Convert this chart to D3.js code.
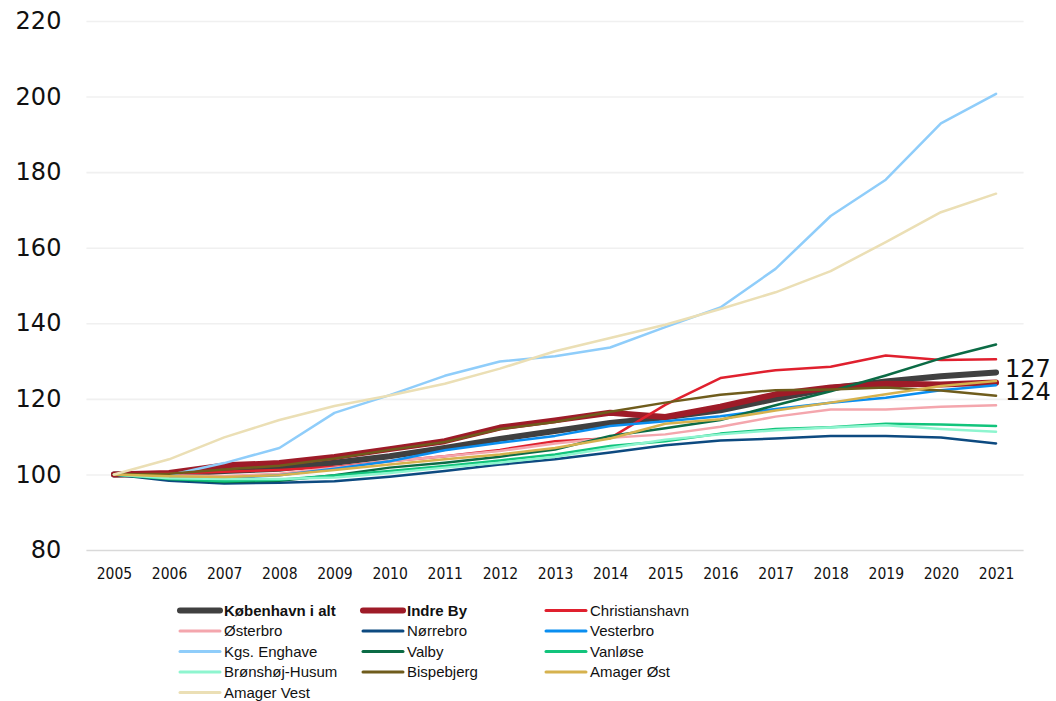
<!DOCTYPE html>
<html><head><meta charset="utf-8">
<script src="https://cdn.jsdelivr.net/npm/d3@7/dist/d3.min.js"></script>
<style>
html,body{margin:0;padding:0;background:#fff;}
svg{display:block;}
</style></head>
<body>
<svg id="chart" width="1056" height="701"></svg>
<script>
const years = [2005,2006,2007,2008,2009,2010,2011,2012,2013,2014,2015,2016,2017,2018,2019,2020,2021];
const yTicks = [80,100,120,140,160,180,200,220];

const seriesNames = ["København i alt","Indre By","Christianshavn","Østerbro","Nørrebro","Vesterbro","Kgs. Enghave","Valby","Vanløse","Brønshøj-Husum","Bispebjerg","Amager Øst","Amager Vest"];

const kobenhavn   = [100,100,100.9,101.5,103.1,104.8,107,109.4,111.5,113.6,115.1,117,120,122.8,124.6,126,127];
const indreBy     = [100,100.4,102.4,103,104.6,106.7,108.8,112.4,114.3,116.3,115.2,117.9,121.2,123,124,123.8,124.3];
const christianshavn = [100,100.2,100.7,101.2,102,103.5,104.8,106.5,108.8,109.6,118.4,125.5,127.6,128.5,131.5,130.3,130.5];
const osterbro    = [100,99.7,99.6,100.2,101.8,103.5,104.8,106.2,108.2,109.7,110.6,112.6,115.3,117.2,117.2,117.9,118.3];
const norrebro    = [100,98.3,97.6,97.8,98.2,99.4,100.9,102.6,104,105.8,107.7,109,109.5,110.2,110.2,109.8,108.2];
const vesterbro   = [100,99,99,99.8,101.5,103.5,106.4,108.4,110.2,112.8,114.1,115.4,117.3,119,120.3,122.3,123.6];
const kgsEnghave  = [100,99.8,103,107,116.3,121,126.1,129.9,131.3,133.6,139,144.2,154.4,168.4,178,192.9,200.7];
const valby       = [100,98.8,98,98.3,99.8,101.8,103.1,104.7,106.6,110.2,112.2,114.4,118.3,122,126.2,130.7,134.4];
const vanlose     = [100,98.8,98.2,98.6,99.7,100.9,102.2,103.7,105.3,107.5,108.8,110.8,112,112.5,113.4,113.2,112.8];
const bronshoj    = [100,99,98.8,98.8,99.2,100.4,101.8,103.1,104.7,107,109.2,110.6,111.7,112.4,113,112,111.3];
const bispebjerg  = [100,100.2,101.3,102.3,104.2,106.5,108.6,112,113.9,116.6,119,121.1,122.3,122.5,123,122.2,120.8];
const amagerOst   = [100,99.5,99.3,99.8,101.2,102.6,104,105.3,107,109.5,113.4,114.6,116.9,119,121.2,123.4,124.7];
const amagerVest  = [100,104,109.8,114.4,118.1,120.9,124,128,132.6,136.1,139.6,143.8,148.2,153.8,161.5,169.4,174.3];

const endLabels = ["127","124"];
const endLabelValues = [127,124];

const seriesValues = [kobenhavn,indreBy,christianshavn,osterbro,norrebro,vesterbro,kgsEnghave,valby,vanlose,bronshoj,bispebjerg,amagerOst,amagerVest];
const colors = ["#404040","#9e1b28","#e0202e","#f4a6ad","#0d4a80","#0a8ef0","#8fcdfa","#0b6b45","#12c47c","#8ef5cf","#6f5c1c","#d6b24e","#ebdfb5"];
const widths = [6,6,2.5,2.5,2.5,2.5,2.5,2.5,2.5,2.5,2.5,2.5,2.5];
const bold = [true,true,false,false,false,false,false,false,false,false,false,false,false];

const svg = d3.select("#chart");
const mLeft = 86.4, mRight = 1023.6, mTop = 21, mBottom = 550;

const x = d3.scalePoint().domain(years).range([mLeft, mRight]).padding(0.5);
const y = d3.scaleLinear().domain([80,220]).range([mBottom, mTop]);

// gridlines
const yAxis = d3.axisLeft(y).tickValues(yTicks).tickSize(-(mRight-mLeft)).tickPadding(25);
const gy = svg.append("g").attr("transform", `translate(${mLeft},0)`).call(yAxis);
gy.select(".domain").remove();
gy.selectAll(".tick line").attr("stroke", d => d === 80 ? "#d9d9d9" : "#f0f0f0").attr("stroke-width", 1.6);
gy.selectAll(".tick text").attr("font-family","'DejaVu Sans', sans-serif").attr("font-size", 24).attr("fill","#111").attr("x", -25);

// x axis labels
const xAxis = d3.axisBottom(x).tickSize(0).tickPadding(18);
const gx = svg.append("g").attr("transform", `translate(0,${mBottom})`).call(xAxis);
gx.select(".domain").remove();
gx.selectAll(".tick text").attr("font-family","'Liberation Sans Narrow','DejaVu Sans Condensed','Liberation Sans',sans-serif").attr("font-size", 15.5).attr("fill","#111");

// lines
const line = d3.line().x((d,i) => x(years[i])).y(d => y(d));
const order = seriesValues.map((_,i)=>i);
svg.append("g").selectAll("path").data(order).join("path")
  .attr("d", i => line(seriesValues[i]))
  .attr("fill","none")
  .attr("stroke", i => colors[i])
  .attr("stroke-width", i => widths[i])
  .attr("stroke-linejoin","round")
  .attr("stroke-linecap","round");

// end labels
svg.append("g").selectAll("text").data(endLabels).join("text")
  .attr("x", x(2021) + 9)
  .attr("y", (d,i) => i === 0 ? y(endLabelValues[i]) - 4 : y(endLabelValues[i]) + 8)
  .attr("dy","0.35em")
  .attr("font-family","'DejaVu Sans', sans-serif")
  .attr("font-size", 24)
  .attr("fill","#111")
  .text(d => d);

// legend
const colX = [180, 363, 546];
const rowY = [610.5, 631, 651.5, 672, 692.5];
const lg = svg.append("g");
seriesNames.forEach((name, i) => {
  const cx = colX[i % 3], cy = rowY[Math.floor(i/3)];
  lg.append("line").attr("x1", cx).attr("x2", cx + 40).attr("y1", cy).attr("y2", cy)
    .attr("stroke", colors[i]).attr("stroke-width", bold[i] ? 6 : 3).attr("stroke-linecap","round");
  lg.append("text").attr("x", cx + 44).attr("y", cy).attr("dy","0.35em")
    .attr("font-family","'Liberation Sans', Arial, sans-serif").attr("font-size", 15)
    .attr("font-weight", bold[i] ? "bold" : "normal").attr("fill","#111").text(name);
});
</script>
</body></html>
